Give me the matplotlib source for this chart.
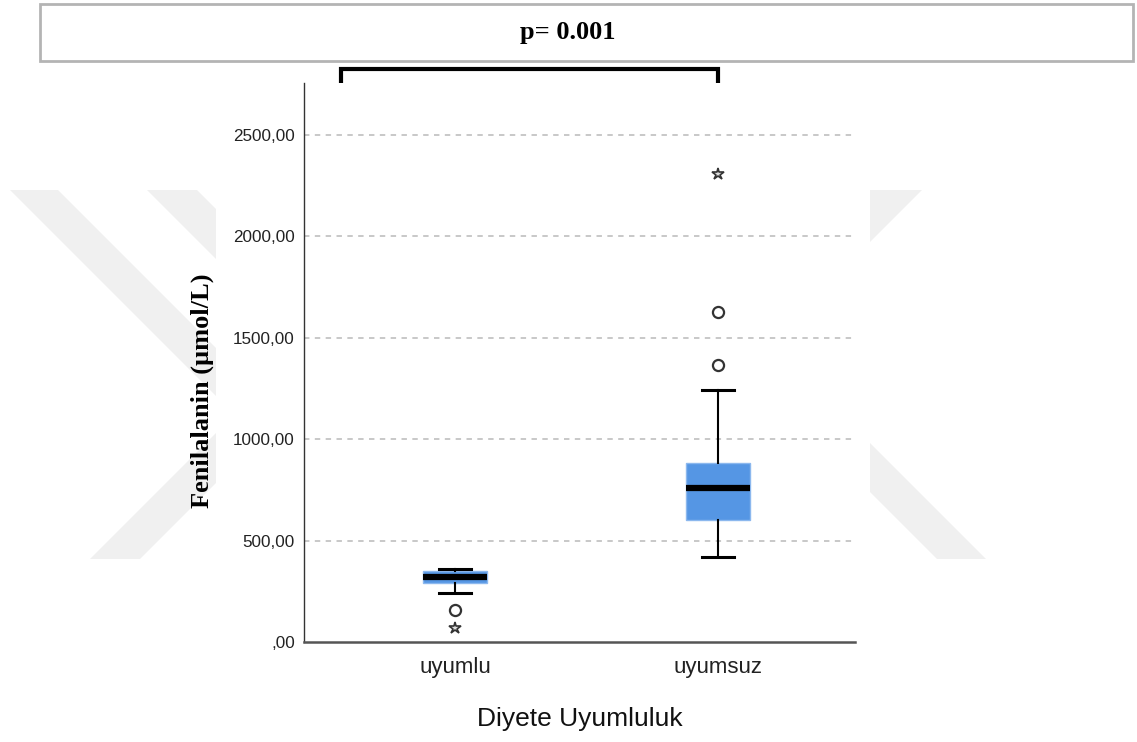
import matplotlib
matplotlib.use("Agg")
import matplotlib.pyplot as plt
from matplotlib.patches import Rectangle, Polygon
from matplotlib.lines import Line2D

# ---------------- data ----------------
categories = ["uyumlu", "uyumsuz"]
whisker_low = [242, 419]
q1 = [291, 602]
median = [320, 759]
q3 = [350, 883]
whisker_high = [360, 1243]
outliers_circle = [[158], [1366, 1627]]
outliers_extreme = [[69], [2308]]
yticks = [0, 500, 1000, 1500, 2000, 2500]
ytick_labels = [",00", "500,00", "1000,00", "1500,00", "2000,00", "2500,00"]
p_text = "p= 0.001"
ylabel = "Fenilalanin (µmol/L)"
xlabel = "Diyete Uyumluluk"

W, H = 1137, 742
fig = plt.figure(figsize=(W / 100, H / 100), dpi=100)


def fx(px):
    return px / W


def fy(py):
    return 1 - py / H


# ---------------- watermark (background decoration) ----------------
wm_color = "#f0f0f0"
wm_shapes = [
    [(10, 190), (58, 190), (216, 348), (216, 396)],
    [(147, 190), (197, 190), (216, 209), (216, 259)],
    [(90, 559), (140, 559), (216, 483), (216, 433)],
    [(870, 190), (922, 190), (870, 242)],
    [(870, 443), (986, 559), (937, 559), (870, 492)],
]
for shp in wm_shapes:
    fig.patches.append(Polygon([(fx(x), fy(y)) for x, y in shp], closed=True,
                               transform=fig.transFigure, facecolor=wm_color,
                               edgecolor="none", zorder=-5))

# ---------------- header box ----------------
fig.patches.append(Rectangle((fx(40), fy(61)), fx(1133) - fx(40), fy(4) - fy(61),
                             transform=fig.transFigure, facecolor="white",
                             edgecolor="#b4b4b4", lw=2, zorder=1))
fig.text(fx(568), fy(32), p_text, ha="center", va="center",
         fontfamily="Liberation Serif", fontweight="bold", fontsize=19, zorder=2)

# bracket
bx = [fx(341), fx(341), fx(718), fx(718)]
by = [fy(83), fy(69), fy(69), fy(83)]
fig.add_artist(Line2D(bx, by, transform=fig.transFigure, color="black", lw=3,
                      solid_joinstyle="miter", solid_capstyle="butt"))

# ---------------- axes ----------------
ax = fig.add_axes([fx(304), fy(642), fx(855) - fx(304), fy(83) - fy(642)])
ax.set_zorder(1)
ax.set_facecolor("white")

positions = list(range(len(categories)))
stats = []
for i, c in enumerate(categories):
    stats.append(dict(label=c, whislo=whisker_low[i], q1=q1[i], med=median[i],
                      q3=q3[i], whishi=whisker_high[i], fliers=[]))

ax.bxp(stats, positions=positions, widths=0.243, capwidths=0.125,
       patch_artist=True, showfliers=False,
       boxprops=dict(facecolor="#5596e4", edgecolor="#8cb8ee", lw=1),
       medianprops=dict(color="black", lw=4.5, solid_capstyle="butt"),
       whiskerprops=dict(color="black", lw=1.5),
       capprops=dict(color="black", lw=2.2),
       zorder=3)

for i, p in enumerate(positions):
    ax.plot([p] * len(outliers_circle[i]), outliers_circle[i], linestyle="none",
            marker="o", ms=8, mfc="none", mec="#333333", mew=1.6, zorder=4)
    ax.plot([p] * len(outliers_extreme[i]), outliers_extreme[i], linestyle="none",
            marker="*", ms=9, mfc="#dddddd", mec="#333333", mew=1.2, zorder=4)

ax.set_xlim(-0.574, 1.521)
ax.set_ylim(0, 2756)
ax.set_yticks(yticks)
ax.set_yticklabels(ytick_labels)
ax.set_xticks(positions)
ax.set_xticklabels(categories)

for y in yticks[1:]:
    ax.axhline(y, color="#c4c4c4", lw=1.3, linestyle=(0, (3, 3)), zorder=1)

for s in ["top", "right"]:
    ax.spines[s].set_visible(False)
ax.spines["left"].set_color("#333333")
ax.spines["left"].set_linewidth(1.0)
ax.spines["bottom"].set_color("#555555")
ax.spines["bottom"].set_linewidth(1.8)

ax.tick_params(axis="y", length=0, pad=6.5, labelsize=12.3, labelcolor="#222222")
ax.tick_params(axis="x", length=0, pad=11, labelsize=16, labelcolor="#222222")
for lab in ax.get_yticklabels() + ax.get_xticklabels():
    lab.set_fontfamily("Liberation Sans")

ax.set_xlabel(xlabel, fontfamily="Liberation Sans", fontsize=19, labelpad=21, color="#111111")
ax.set_ylabel(ylabel, fontfamily="Liberation Serif", fontweight="bold", fontsize=19,
              va="center")
ax.yaxis.set_label_coords((202 - 304) / 551, (642 - 391) / 559)

fig.savefig("out.png", dpi=100, facecolor="white")
